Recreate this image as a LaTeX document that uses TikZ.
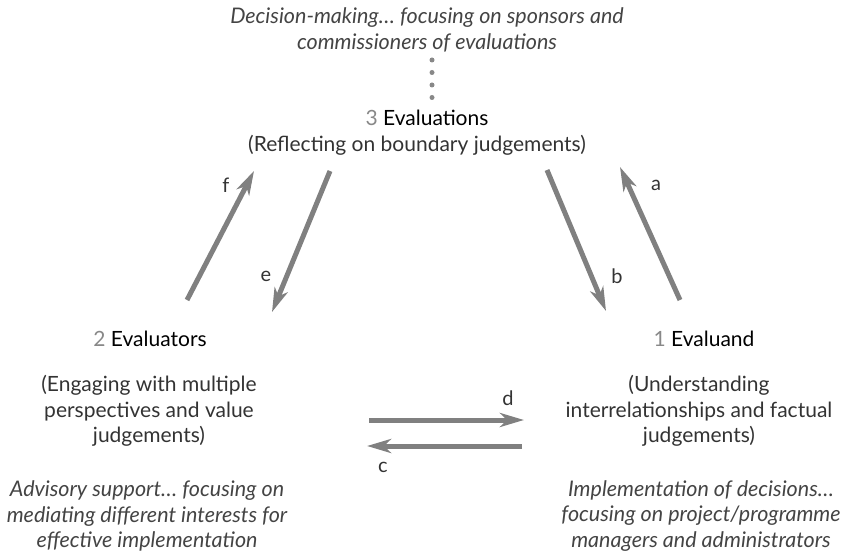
\documentclass[tikz,border=0pt]{standalone}
\usepackage{fontspec}
\setmainfont{Lato}
\usetikzlibrary{arrows.meta}
\definecolor{txt}{HTML}{333333}
\definecolor{itx}{HTML}{444444}
\definecolor{num}{HTML}{888888}
\definecolor{arr}{HTML}{808080}
\tikzset{
  body/.style={align=center, text=txt, font=\fontsize{21}{25.5}\selectfont, inner sep=0pt},
  ital/.style={align=center, text=itx, font=\fontsize{21.5}{25.5}\selectfont\itshape, inner sep=0pt},
  head/.style={text=black, font=\fontsize{21}{25}\selectfont, inner sep=0pt},
  lbl/.style={text=txt, font=\fontsize{20}{22}\selectfont, inner sep=0pt},
  flow/.style={draw=arr, line width=5pt, -{Stealth[length=24pt,width=14pt,inset=7pt]}},
  dotc/.style={circle, fill=num, inner sep=0pt, minimum size=5pt}
}
\begin{document}
\begin{tikzpicture}[x=1pt,y=-1pt]
\useasboundingbox (0,0) rectangle (848,553);
% top
\node[ital] (top) at (427,30) {Decision-making\dots\ focusing on sponsors and\\commissioners of evaluations};
\foreach \i/\yy in {1/60,2/72.5,3/85,4/97.5} \node[dotc] (dot\i) at (432,\yy) {};
\node[head] (n3) at (427,118) {\textcolor{num}{3} Evaluations};
\node[body] (r3) at (417,145) {(Reflecting on boundary judgements)};
% left
\node[head] (n2) at (150,339) {\textcolor{num}{2} Evaluators};
\node[body] (r2) at (149,411) {(Engaging with multiple\\perspectives and value\\judgements)};
\node[ital] (i2) at (147,516) {Advisory support\dots\ focusing on\\mediating different interests for\\effective implementation};
% right
\node[head] (n1) at (704,339) {\textcolor{num}{1} Evaluand};
\node[body] (r1) at (699,411) {(Understanding\\interrelationships and factual\\judgements)};
\node[ital] (i1) at (701,516) {Implementation of decisions\dots\\focusing on project/programme\\managers and administrators};
% arrow endpoints
\coordinate (fS) at (187,300); \coordinate (fE) at (254,171);
\coordinate (eS) at (330,171); \coordinate (eE) at (272,312);
\coordinate (bS) at (547,170); \coordinate (bE) at (606,311);
\coordinate (aS) at (680,300); \coordinate (aE) at (620,167);
\coordinate (dS) at (369,420); \coordinate (dE) at (524,420);
\coordinate (cS) at (522,446); \coordinate (cE) at (367,446);
\draw[flow] (fS) -- (fE);
\draw[flow] (eS) -- (eE);
\draw[flow] (bS) -- (bE);
\draw[flow] (aS) -- (aE);
\draw[flow] (dS) -- (dE);
\draw[flow] (cS) -- (cE);
\node[lbl] (lf) at (226,185) {f};
\node[lbl] (le) at (266,276) {e};
\node[lbl] (lb) at (617,276) {b};
\node[lbl] (la) at (656,185) {a};
\node[lbl] (ld) at (508,398) {d};
\node[lbl] (lc) at (383,467) {c};
\end{tikzpicture}
\end{document}
